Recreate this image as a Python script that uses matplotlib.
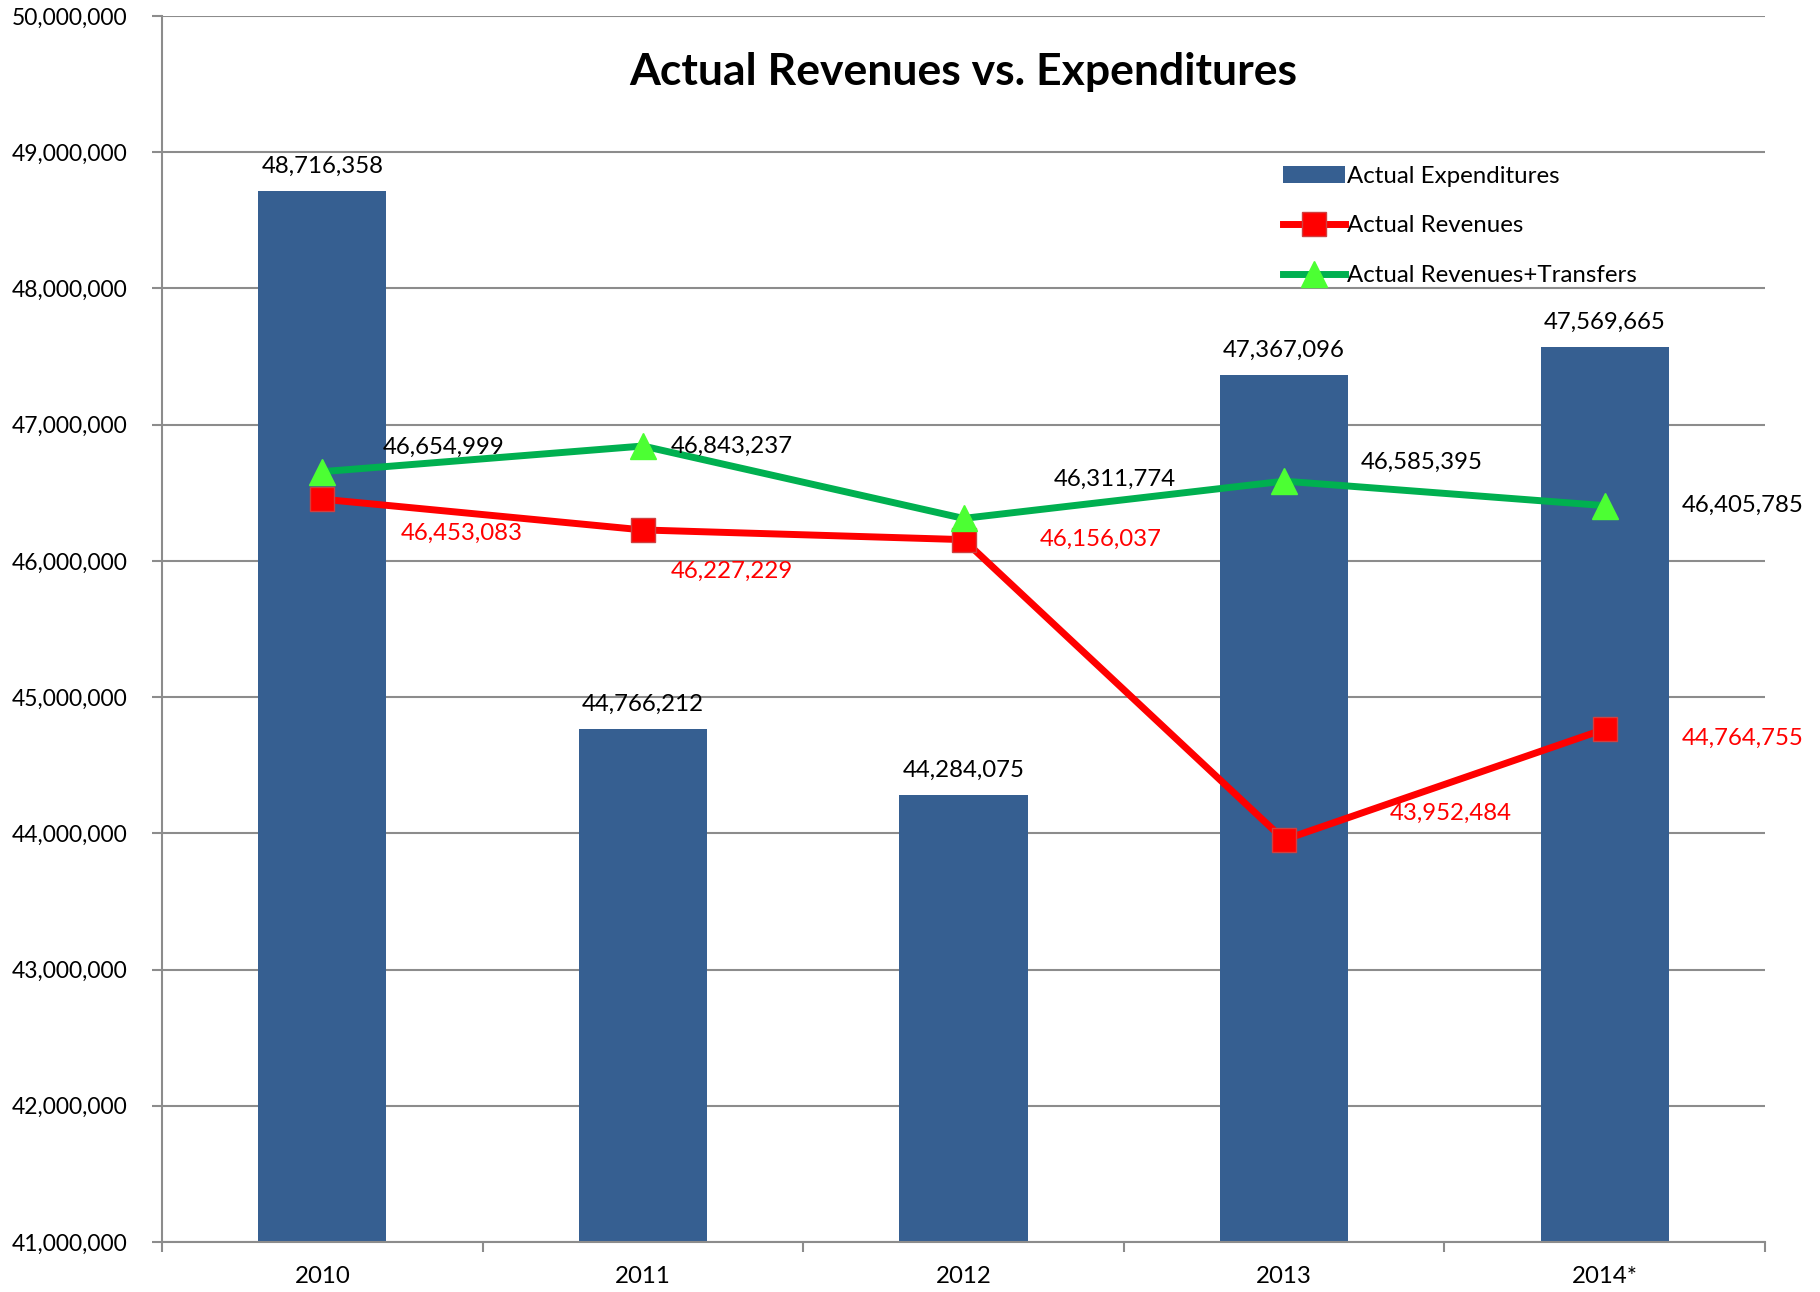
import matplotlib.pyplot as plt
import numpy as np
from matplotlib.ticker import FuncFormatter

years = ['2010', '2011', '2012', '2013', '2014*']
expenditures = [48716358, 44766212, 44284075, 47367096, 47569665]
revenues = [46453083, 46227229, 46156037, 43952484, 44764755]
rev_transfers = [46654999, 46843237, 46311774, 46585395, 46405785]

# label offsets in pixels (dx, dy)
green_off = [(121, 24), (89, 0), (151, 39), (138, 19), (138, 0)]
red_off = [(139, -34), (89, -41), (137, 0), (167, 26), (138, -9)]

plt.rcParams['font.family'] = ['Lato', 'DejaVu Sans']
fs = 17.3

fig = plt.figure(figsize=(18.2, 12.92), dpi=100)
ax = fig.add_axes([162 / 1820, 1 - 1242 / 1292, (1765 - 162) / 1820, (1242 - 16) / 1292])

x = np.arange(len(years))
bars = ax.bar(x, expenditures, width=0.40, color='#365F91', zorder=2, label='Actual Expenditures')
l1, = ax.plot(x, revenues, color='#FF0000', lw=5, marker='s', markersize=17,
              markerfacecolor='#FF0000', markeredgecolor='#D04040', markeredgewidth=1,
              zorder=3, label='Actual Revenues')
l2, = ax.plot(x, rev_transfers, color='#00B050', lw=5, marker='^', markersize=19,
              markerfacecolor='#4CFF33', markeredgecolor='#4CFF33',
              zorder=3, label='Actual Revenues+Transfers')

for xi, v in zip(x, expenditures):
    ax.annotate(f'{v:,}', (xi, v), xytext=(0, 14), textcoords='offset pixels',
                ha='center', va='bottom', fontsize=fs, color='black')
for xi, v, (dx, dy) in zip(x, rev_transfers, green_off):
    ax.annotate(f'{v:,}', (xi, v), xytext=(dx, dy), textcoords='offset pixels',
                ha='center', va='center', fontsize=fs, color='black',
                annotation_clip=False)
for xi, v, (dx, dy) in zip(x, revenues, red_off):
    ax.annotate(f'{v:,}', (xi, v), xytext=(dx, dy), textcoords='offset pixels',
                ha='center', va='center', fontsize=fs, color='#FF0000',
                annotation_clip=False)

ax.set_xlim(-0.5, len(years) - 0.5)
ax.set_ylim(41000000, 50000000)
ax.set_yticks(np.arange(41000000, 50000001, 1000000))
ax.yaxis.set_major_formatter(FuncFormatter(lambda v, p: f'{int(v):,}'))
ax.set_xticks(x)
ax.set_xticklabels(years)
ax.set_xticks(np.arange(-0.5, len(years)), minor=True)
ax.tick_params(axis='x', which='major', length=0, pad=17, labelsize=fs)
ax.tick_params(axis='x', which='minor', length=7, width=1.5, color='#8C8C8C')
ax.tick_params(axis='y', length=7, width=1.5, color='#8C8C8C', pad=18, labelsize=16.5)

ax.grid(axis='y', color='#8C8C8C', lw=1.5, zorder=0)
ax.set_axisbelow(True)
for s in ['top', 'right']:
    ax.spines[s].set_visible(False)
for s in ['left', 'bottom']:
    ax.spines[s].set_color('#8C8C8C')
    ax.spines[s].set_linewidth(1.5)

ax.legend([bars, l1, l2], ['Actual Expenditures', 'Actual Revenues', 'Actual Revenues+Transfers'],
          loc='upper left', bbox_to_anchor=(1273 / 1820, 1 - 156 / 1292),
          bbox_transform=fig.transFigure, frameon=False, fontsize=fs,
          handlelength=2.6, handletextpad=0.1, labelspacing=1.2, borderaxespad=0)

fig.text(963 / 1820, 1 - 72 / 1292, 'Actual Revenues vs. Expenditures',
         ha='center', va='center', fontsize=32, fontweight='bold')

fig.savefig('out.png', dpi=100)
